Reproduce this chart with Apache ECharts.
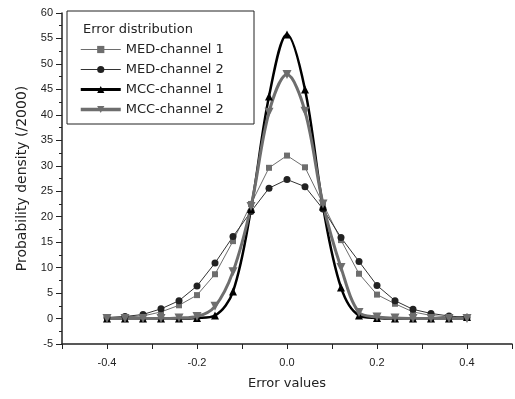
<!DOCTYPE html>
<html>
<head>
<meta charset="utf-8">
<script src="https://cdn.jsdelivr.net/npm/echarts@6/dist/echarts.min.js"></script>
<style>
  html, body { margin: 0; padding: 0; background: #fff; }
  #chart { width: 515px; height: 399px; }
</style>
</head>
<body>
<div id="chart"></div>
<script>
// error values (x) shared by every curve
const errorValues = [-0.4, -0.36, -0.32, -0.28, -0.24, -0.2, -0.16, -0.12, -0.08, -0.04, 0,
  0.04, 0.08, 0.12, 0.16, 0.2, 0.24, 0.28, 0.32, 0.36, 0.4];

// probability density (/2000)
const med1 = [0.2, 0.3, 0.5, 1.3, 2.6, 4.6, 8.7, 15.2, 22.5, 29.6, 32, 29.7, 22.5, 15.4, 8.8, 4.7, 2.9, 1.3, 0.6, 0.3, 0.2];
const med2 = [0.2, 0.4, 0.8, 1.9, 3.5, 6.4, 10.9, 16.1, 21, 25.6, 27.3, 25.9, 21.5, 15.9, 11.2, 6.5, 3.5, 1.8, 1.0, 0.5, 0.2];
const mcc1 = [0, 0, 0, 0, 0, 0.1, 0.6, 5.3, 21.5, 43.6, 55.8, 45, 22, 6.1, 0.6, 0.1, 0, 0, 0, 0, 0.3];
const mcc2 = [0, 0, 0, 0, 0.1, 0.4, 2.4, 9.2, 22, 40.5, 47.9, 40.7, 22.5, 10, 1.2, 0.3, 0.1, 0, 0, 0, 0];

const seriesNames = ["MED-channel 1", "MED-channel 2", "MCC-channel 1", "MCC-channel 2"];
const xTicks = [-0.4, -0.2, 0, 0.2, 0.4];

const pairs = (ys) => errorValues.map((x, i) => [x, ys[i]]);
const font = "Liberation Sans, Arial, sans-serif";
const wideFont = "DejaVu Sans, sans-serif";
const gray = "#6e6e6e";

const chart = echarts.init(document.getElementById("chart"));
const option = {
  animation: false,
  backgroundColor: "#fff",
  grid: { left: 62, right: 1, top: 13, bottom: 55 },
  title: {
    text: "Error distribution",
    left: 78,
    top: 18,
    textStyle: { fontFamily: wideFont, fontSize: 13, fontWeight: "normal", color: "#222" },
  },
  legend: {
    data: [
      { name: seriesNames[0], lineStyle: { width: 1 } },
      { name: seriesNames[1], lineStyle: { width: 1 } },
      { name: seriesNames[2], lineStyle: { width: 3 } },
      { name: seriesNames[3], lineStyle: { width: 3.5 } },
    ],
    orient: "vertical",
    left: 74,
    top: 38,
    itemWidth: 40,
    itemHeight: 9,
    itemGap: 7,
    textStyle: { fontFamily: wideFont, fontSize: 13, color: "#222" },
  },
  graphic: [
    {
      type: "rect",
      shape: { x: 67, y: 11, width: 187, height: 113 },
      style: { fill: "transparent", stroke: "#222", lineWidth: 1 },
      z: 100,
    },
  ],
  xAxis: {
    type: "value",
    min: -0.5,
    max: 0.5,
    interval: 0.1,
    name: "Error values",
    nameLocation: "middle",
    nameGap: 33,
    nameTextStyle: { fontFamily: wideFont, fontSize: 13, color: "#222" },
    axisLine: { onZero: false, lineStyle: { color: "#222", width: 1.5 } },
    axisTick: { inside: false, length: 5, lineStyle: { color: "#222" } },
    splitLine: { show: false },
    axisLabel: {
      margin: 13,
      fontFamily: font,
      fontSize: 11,
      color: "#222",
      formatter: (v) => {
        const t = Math.round(v * 10) / 10;
        return xTicks.some((k) => Math.abs(k - t) < 1e-6) ? t.toFixed(1) : "";
      },
    },
  },
  yAxis: {
    type: "value",
    min: -5,
    max: 60,
    interval: 5,
    name: "Probability density (/2000)",
    nameLocation: "middle",
    nameGap: 33,
    nameTextStyle: { fontFamily: wideFont, fontSize: 14, color: "#222" },
    axisLine: { show: true, onZero: false, lineStyle: { color: "#222", width: 1.5 } },
    axisTick: { show: true, length: 6, lineStyle: { color: "#222" } },
    minorTick: { show: true, splitNumber: 2, length: 3, lineStyle: { color: "#222" } },
    splitLine: { show: false },
    axisLabel: { margin: 9, fontFamily: font, fontSize: 11, color: "#222" },
  },
  series: [
    {
      name: seriesNames[0],
      type: "line",
      data: pairs(med1),
      symbol: "rect",
      symbolSize: 6,
      itemStyle: { color: gray },
      lineStyle: { color: gray, width: 1 },
    },
    {
      name: seriesNames[1],
      type: "line",
      data: pairs(med2),
      symbol: "circle",
      symbolSize: 7,
      itemStyle: { color: "#222" },
      lineStyle: { color: "#333", width: 1 },
    },
    {
      name: seriesNames[2],
      type: "line",
      data: pairs(mcc1),
      symbol: "triangle",
      symbolSize: 8,
      smooth: 0.35,
      itemStyle: { color: "#000" },
      lineStyle: { color: "#000", width: 2.5 },
    },
    {
      name: seriesNames[3],
      type: "line",
      data: pairs(mcc2),
      symbol: "path://M0,0 L10,0 L5,9 Z",
      symbolSize: 9,
      smooth: 0.35,
      itemStyle: { color: gray },
      lineStyle: { color: gray, width: 3 },
    },
  ],
};
chart.setOption(option);
</script>
</body>
</html>
